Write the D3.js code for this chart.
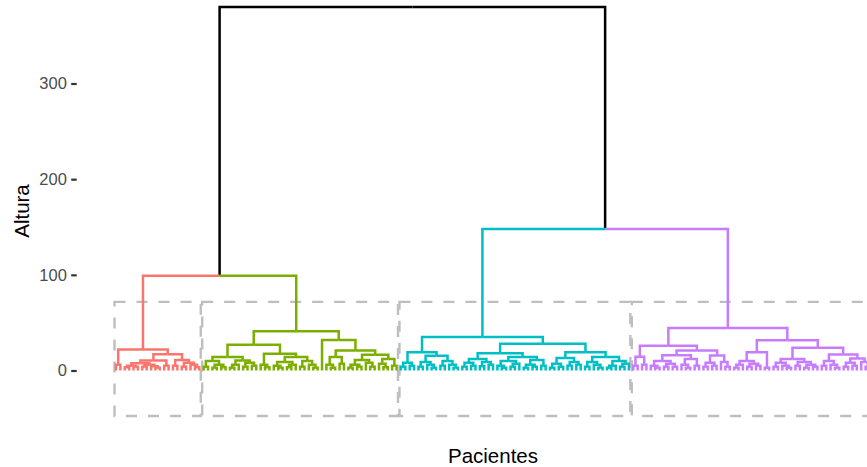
<!DOCTYPE html>
<html><head><meta charset="utf-8">
<script src="https://cdn.jsdelivr.net/npm/d3@7"></script>
<style>body{margin:0;background:#fff;} svg{display:block;}</style>
</head><body>
<svg id="chart" width="867" height="467"></svg>
<script>
// ---- data ----
const yTicks = [0, 100, 200, 300];
const clusterNames = ["1", "2", "3", "4"];
const clusterColors = ["#F8766D", "#7CAE00", "#00BFC4", "#C77CFF"];
// merge heights above the four clusters: [1+2], [3+4], root
const upperHeights = [99, 148, 380];
// each cluster as nested [height, left, right]; 0 = leaf (patient)
const cluster1 = [22, [6,0,0], [17, [10.5, [7.5,[5,[3.5,0,0],[4,0,0]],[6,[4,0,0],[4.5,0,[3,0,0]]]], [5,0,0]], [11, [5,0,0], [8,[4,0,0],[6,0,[3.5,0,0]]]]]];
const cluster2 = [41,
  [27,
    [14, [10,[4,0,0],[6,[3,0,0],[3.5,0,0]]], [10.5,[6,[3,0,0],0],[8,[4,0,0],[5,0,0]]]],
    [17.5, [6,0,[3.5,0,0]], [14,[9,[5,0,[3,0,0]],[6,[3.5,0,0],0]],[10,[4,0,0],[6,0,[3,0,0]]]]]],
  [32, 0,
    [21, [14,[6,0,[3,0,0]],[7,0,0]], [16.5,[11,[6,[3,0,0],[4,0,0]],[8,0,[4,0,0]]],[12,[7,0,[3.5,0,0]],[5,0,0]]]]]];
const cluster3 = [35,
  [19, [8,[4,0,0],[5,0,0]], [15.5,[9,[4,0,0],[6,0,[3,0,0]]],[10,[5,0,0],[6,0,[3,0,0]]]]],
  [28,
    [18, [12,[8,[4,0,0],[5,0,0]],[9,[4.5,0,0],[6,0,0]]], [14,[10,[5,0,[3,0,0]],[7,[4,0,0],0]],[11,[6,[3,0,0],[4,0,0]],[5,0,0]]]],
    [19, [13,[7,[3,0,0],[4,0,0]],[9,[5,0,0],[6,0,0]]], [14,[9,[4,0,0],[6,0,[3,0,0]]],[10,[5,[3,0,0],0],[7,[4,0,0],0]]]]]];
const cluster4 = [44.4,
  [26, [14.5,[5,0,0],[6,0,0]],
    [21, [16,[10,[5,0,[3,0,0]],[7,[4,0,0],[4,0,0]]],[12,[6,0,[3,0,0]],[5,0,0]]], [15.7,[8,[4,0,0],[5,0,0]],[9,0,[4,0,0]]]]],
  [31.5,
    [19, [10,[6,[3,0,0],0],[7,[4,0,0],[5,0,0]]], [3,0,0]],
    [23.8, [12,[8,[4,0,0],[5,0,[3,0,0]]],[9,[5,0,0],[6,[3,0,0],[4,0,0]]]], [16.8,[10,[5,0,0],[6,0,[3,0,0]]],[12.6,[8,[4,0,0],[5,0,0]],[9,0,[4,0,0]]]]]]];
const clusters = [cluster1, cluster2, cluster3, cluster4];
const xTitle = "Pacientes", yTitle = "Altura";

// ---- build tree ----
function toNode(a, cl) {
  if (a === 0) return {h: 0, cluster: cl};
  return {h: a[0], cluster: cl, children: [toNode(a[1], cl), toNode(a[2], cl)]};
}
const treeData = {h: upperHeights[2], cluster: null, children: [
  {h: upperHeights[0], cluster: null, children: [toNode(clusters[0], 0), toNode(clusters[1], 1)]},
  {h: upperHeights[1], cluster: null, children: [toNode(clusters[2], 2), toNode(clusters[3], 3)]}
]};
const root = d3.hierarchy(treeData);
const leaves = root.leaves();
leaves.forEach((d, i) => d.idx = i);
root.eachAfter(d => { d.pos = d.children ? d3.mean(d.children, c => c.pos) : d.idx; });
const n = leaves.length;

// ---- scales ----
const svg = d3.select("#chart");
const x = d3.scaleLinear().domain([0, n - 1]).range([116, 870]);
const y = d3.scaleLinear().domain([0, 300]).range([370.5, 83.5]);

// ---- rectangles ----
const allHeights = root.descendants().filter(d => d.children).map(d => d.data.h).sort((a, b) => b - a);
const k = clusters.length;
const rectTop = (allHeights[k - 2] + allHeights[k - 1]) / 2;
const rectBottom = -allHeights[0] / 8;
clusterNames.forEach((name, ci) => {
  const ls = leaves.filter(d => d.data.cluster === ci);
  const i0 = d3.min(ls, d => d.idx), i1 = d3.max(ls, d => d.idx);
  svg.append("rect")
    .attr("x", x(i0 - 0.34)).attr("y", y(rectTop))
    .attr("width", x(i1 + 0.33) - x(i0 - 0.34))
    .attr("height", y(rectBottom) - y(rectTop))
    .attr("fill", "none").attr("stroke", "#BEBEBE")
    .attr("stroke-width", 2.4).attr("stroke-dasharray", "11,11");
});

// ---- branches ----
svg.append("g").selectAll("path")
  .data(root.descendants().filter(d => d.parent))
  .join("path")
  .attr("d", d => `M${x(d.pos)},${y(d.data.h)}V${y(d.parent.data.h)}H${x(d.parent.pos)}`)
  .attr("fill", "none")
  .attr("stroke", d => d.data.cluster === null ? "#000" : clusterColors[d.data.cluster])
  .attr("stroke-width", 2.5);

// ---- axis ----
const ax = svg.append("g").attr("transform", "translate(76.7,0)")
  .call(d3.axisLeft(y).tickValues(yTicks).tickSize(5.5).tickPadding(4.3));
ax.select(".domain").remove();
ax.selectAll(".tick line").attr("stroke", "#333").attr("stroke-width", 2.2);
ax.selectAll(".tick text").attr("fill", "#4D4D4D")
  .style("font-family", "Liberation Sans, Arial, sans-serif").style("font-size", "16.5px");

svg.append("text").attr("x", 493).attr("y", 463).attr("text-anchor", "middle")
  .style("font-family", "Liberation Sans, Arial, sans-serif").style("font-size", "20.5px")
  .attr("fill", "#000").text(xTitle);
svg.append("text").attr("transform", "translate(28.5,211) rotate(-90)").attr("text-anchor", "middle")
  .style("font-family", "Liberation Sans, Arial, sans-serif").style("font-size", "20.5px")
  .attr("fill", "#000").text(yTitle);
</script>
</body></html>
